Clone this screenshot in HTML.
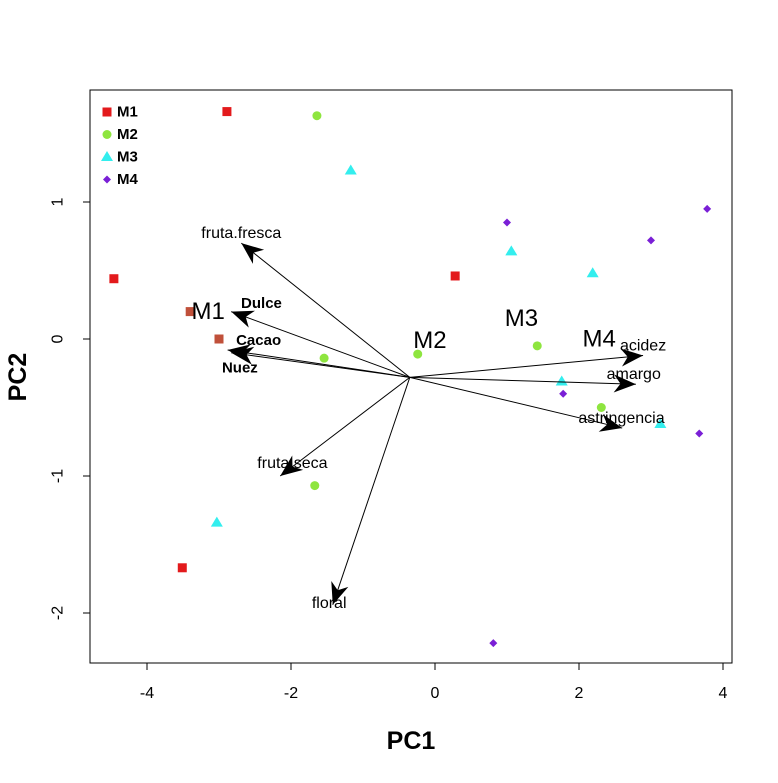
<!DOCTYPE html>
<html><head><meta charset="utf-8"><style>
body{margin:0;background:#fff}
svg{font-family:"Liberation Sans",Arial,sans-serif}
</style></head><body>
<svg id="c" width="778" height="778"></svg>
<script>
const groups=['M1','M2','M3','M4'];
const groupColors=['#e31a1c','#8ee53f','#33eeee','#7a1fd6'];
const m1x=[-2.89,-4.46,0.28,-3.51], m1y=[1.66,0.44,0.46,-1.67];
const m2x=[-1.64,-1.54,-0.24,1.42,2.31,-1.67], m2y=[1.63,-0.14,-0.11,-0.05,-0.50,-1.07];
const m3x=[-1.17,1.06,2.19,1.76,3.13,-3.03], m3y=[1.23,0.64,0.48,-0.31,-0.62,-1.34];
const m4x=[1.0,3.78,3.0,1.78,3.67,0.81], m4y=[0.85,0.95,0.72,-0.40,-0.69,-2.22];
const centX=[-3.40,-0.24,1.42,2.31], centY=[0.20,-0.11,-0.05,-0.50];
const centLabelX=[-3.15,-0.07,1.20,2.28], centLabelY=[0.20,-0.01,0.15,0.00];
const varNames=['fruta.fresca','Dulce','Cacao','Nuez','acidez','amargo','astringencia','fruta.seca','floral'];
const varX=[-2.69,-2.83,-2.83,-2.88,2.89,2.79,2.60,-2.15,-1.42];
const varY=[0.70,0.20,-0.10,-0.08,-0.12,-0.33,-0.65,-1.00,-1.94];
const labX=[-2.69,-2.41,-2.45,-2.71,2.89,2.76,2.59,-1.98,-1.47];
const labY=[0.77,0.26,-0.01,-0.21,-0.05,-0.26,-0.58,-0.91,-1.93];
const xTicks=[-4,-2,0,2,4], yTicks=[1,0,-1,-2];
const origin=[-0.35,-0.28];
const sx=v=>435+v*72, sy=v=>339-v*137;
const svg=document.getElementById('c');const NS='http://www.w3.org/2000/svg';
function mk(t,a,p){const e=document.createElementNS(NS,t);for(const k in a)e.setAttribute(k,a[k]);(p||svg).appendChild(e);return e;}
let e=mk('rect',{x:90,y:90,width:642,height:573,fill:'none',stroke:'#000'});


xTicks.forEach(t=>{const x=sx(t);
e=mk('line',{x1:x,x2:x,y1:663,y2:670,stroke:'#000'});


e=mk('text',{x:x,y:698,'text-anchor':'middle','font-size':16});e.textContent=t;

});
yTicks.forEach(t=>{const y=sy(t);
e=mk('line',{x1:83,x2:90,y1:y,y2:y,stroke:'#000'});


e=mk('text',{x:58,y:y,'text-anchor':'middle','font-size':16,transform:`rotate(-90 58 ${y})`,'dominant-baseline':'central'});e.textContent=t;

});
e=mk('text',{x:411,y:749,'text-anchor':'middle','font-size':25,'font-weight':'bold'});e.textContent='PC1';


e=mk('text',{x:18,y:377,'text-anchor':'middle','font-size':25,'font-weight':'bold',transform:'rotate(-90 18 377)','dominant-baseline':'central'});e.textContent='PC2';


function marker(g,x,y,col){
 if(g===0)return mk('rect',{x:x-4.5,y:y-4.5,width:9,height:9,fill:col});
 if(g===1)return mk('circle',{cx:x,cy:y,r:4.5,fill:col});
 if(g===2)return mk('polygon',{points:`${x},${y-6} ${x+6},${y+4} ${x-6},${y+4}`,fill:col});
 return mk('polygon',{points:`${x},${y-4} ${x+4},${y} ${x},${y+4} ${x-4},${y}`,fill:col});
}
[[m1x,m1y],[m2x,m2y],[m3x,m3y],[m4x,m4y]].forEach((s,g)=>{s[0].forEach((v,i)=>{
 e=marker(g,sx(v),sy(s[1][i]),groupColors[g]);
 
 });});
e=marker(0,sx(-3.0),sy(0),'#c0503a');


e=marker(0,sx(centX[0]),sy(centY[0]),'#c0503a');


groups.forEach((g,i)=>{e=mk('text',{x:sx(centLabelX[i]),y:sy(centLabelY[i]),'text-anchor':'middle','font-size':24,'dominant-baseline':'central'});e.textContent=g;

});
const ox=sx(origin[0]),oy=sy(origin[1]);
varNames.forEach((n,i)=>{const x=sx(varX[i]),y=sy(varY[i]);
 e=mk('line',{x1:ox,y1:oy,x2:x,y2:y,stroke:'#000','stroke-width':1});
 
 
 const a=Math.atan2(y-oy,x-ox),L=22,W=9;
 const bx=x-L*Math.cos(a),by=y-L*Math.sin(a),mx=x-L*0.7*Math.cos(a),my=y-L*0.7*Math.sin(a);
 e=mk('polygon',{points:`${x},${y} ${bx-W*Math.sin(a)},${by+W*Math.cos(a)} ${mx},${my} ${bx+W*Math.sin(a)},${by-W*Math.cos(a)}`,fill:'#000'});
 
 
 e=mk('text',{x:sx(labX[i]),y:sy(labY[i]),'text-anchor':'middle','font-size':(i>=1&&i<=3)?15:16,'font-weight':(i>=1&&i<=3)?'bold':'normal','dominant-baseline':'central'});e.textContent=n;
 
 });
groups.forEach((g,i)=>{const y=112+i*22.5;
 e=marker(i,107,y,groupColors[i]);
 
 
 e=mk('text',{x:117,y:y,'font-size':15,'font-weight':'bold','dominant-baseline':'central'});e.textContent=g;
 
 });
</script>
</body></html>
